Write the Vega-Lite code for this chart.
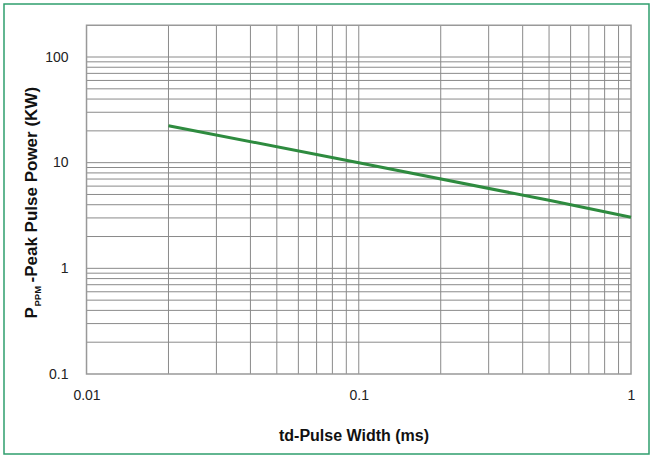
{
  "$schema": "https://vega.github.io/schema/vega-lite/v6.json",
  "width": 645,
  "height": 450,
  "autosize": {"type": "none"},
  "padding": {"left": 4, "top": 4, "right": 1, "bottom": 1},
  "background": "white",
  "config": {
    "view": {"stroke": "#2f9e6e", "strokeWidth": 1.5},
    "font": "Liberation Sans"
  },
  "datasets": {
    "curve": [
      {"t": 0.02, "p": 22.4},
      {"t": 0.1, "p": 10.0},
      {"t": 0.5, "p": 4.4},
      {"t": 1, "p": 3.05}
    ],
    "xgrid": [
      {"t": 0.02}, {"t": 0.03}, {"t": 0.04}, {"t": 0.05}, {"t": 0.06}, {"t": 0.07}, {"t": 0.08}, {"t": 0.09},
      {"t": 0.1}, {"t": 0.2}, {"t": 0.3}, {"t": 0.4}, {"t": 0.5}, {"t": 0.6}, {"t": 0.7}, {"t": 0.8}, {"t": 0.9}
    ],
    "ygrid": [
      {"p": 0.2}, {"p": 0.3}, {"p": 0.4}, {"p": 0.5}, {"p": 0.6}, {"p": 0.7}, {"p": 0.8}, {"p": 0.9},
      {"p": 1}, {"p": 2}, {"p": 3}, {"p": 4}, {"p": 5}, {"p": 6}, {"p": 7}, {"p": 8}, {"p": 9},
      {"p": 10}, {"p": 20}, {"p": 30}, {"p": 40}, {"p": 50}, {"p": 60}, {"p": 70}, {"p": 80}, {"p": 90},
      {"p": 100}
    ]
  },
  "resolve": {"axis": {"x": "independent", "y": "independent"}},
  "layer": [
    {
      "data": {"name": "xgrid"},
      "mark": {"type": "rule", "color": "#8a8a8a", "strokeWidth": 1},
      "encoding": {
        "x": {"field": "t", "type": "quantitative", "axis": null,
              "scale": {"type": "log", "domain": [0.004976, 1.1643], "nice": false}},
        "y": {"datum": 0.1, "type": "quantitative", "axis": null,
              "scale": {"type": "log", "domain": [0.017497, 317.4], "nice": false}},
        "y2": {"datum": 200}
      }
    },
    {
      "data": {"name": "ygrid"},
      "mark": {"type": "rule", "color": "#8a8a8a", "strokeWidth": 1},
      "encoding": {
        "y": {"field": "p", "type": "quantitative", "axis": null,
              "scale": {"type": "log", "domain": [0.017497, 317.4], "nice": false}},
        "x": {"datum": 0.01, "type": "quantitative", "axis": null,
              "scale": {"type": "log", "domain": [0.004976, 1.1643], "nice": false}},
        "x2": {"datum": 1}
      }
    },
    {
      "data": {"values": [{}]},
      "mark": {"type": "rect", "fillOpacity": 0, "stroke": "#999999", "strokeWidth": 1.5},
      "encoding": {
        "x": {"datum": 0.01, "type": "quantitative", "axis": null,
              "scale": {"type": "log", "domain": [0.004976, 1.1643], "nice": false}},
        "x2": {"datum": 1},
        "y": {"datum": 0.1, "type": "quantitative", "axis": null,
              "scale": {"type": "log", "domain": [0.017497, 317.4], "nice": false}},
        "y2": {"datum": 200}
      }
    },
    {
      "data": {"name": "curve"},
      "mark": {"type": "line", "color": "#2e8b3f", "strokeWidth": 3},
      "encoding": {
        "x": {"field": "t", "type": "quantitative",
              "scale": {"type": "log", "domain": [0.004976, 1.1643], "nice": false},
              "axis": {"orient": "bottom", "values": [0.01, 0.1, 1], "format": "~g",
                       "grid": false, "ticks": false, "domain": false, "offset": -66, "labelPadding": 0,
                       "labelFont": "Liberation Sans", "labelFontSize": 14, "labelColor": "#222222",
                       "title": "td-Pulse Width (ms)", "titleFont": "Liberation Sans", "titleFontSize": 16,
                       "titleFontWeight": "bold", "titleColor": "#111111",
                       "titleX": 349.5, "titleY": 47, "titleBaseline": "middle", "titleAlign": "center", "titleAngle": 0}},
        "y": {"field": "p", "type": "quantitative",
              "scale": {"type": "log", "domain": [0.017497, 317.4], "nice": false},
              "axis": {"orient": "left", "values": [0.1, 1, 10, 100], "format": "~g",
                       "grid": false, "ticks": false, "domain": false, "offset": -66, "labelPadding": 2,
                       "labelFont": "Liberation Sans", "labelFontSize": 14, "labelColor": "#222222",
                       "title": "-Peak Pulse Power (KW)", "titleFont": "Liberation Sans", "titleFontSize": 17,
                       "titleFontWeight": "bold", "titleColor": "#111111",
                       "titleX": -34, "titleY": 278, "titleAngle": 270, "titleAlign": "left", "titleBaseline": "alphabetic"}}
      }
    },
    {
      "data": {"name": "curve"},
      "mark": {"type": "point", "opacity": 0},
      "encoding": {
        "x": {"field": "t", "type": "quantitative",
              "scale": {"type": "log", "domain": [0.004976, 1.1643], "nice": false},
              "axis": {"orient": "top", "labels": false, "ticks": false, "domain": false, "grid": false,
                       "title": "P", "titleFont": "Liberation Sans", "titleFontSize": 17,
                       "titleFontWeight": "bold", "titleColor": "#111111",
                       "titleX": 32, "titleY": 314, "titleAngle": 270, "titleAlign": "left", "titleBaseline": "alphabetic"}},
        "y": {"field": "p", "type": "quantitative",
              "scale": {"type": "log", "domain": [0.017497, 317.4], "nice": false},
              "axis": {"orient": "right", "labels": false, "ticks": false, "domain": false, "grid": false,
                       "title": "PPM", "titleFont": "Liberation Sans", "titleFontSize": 9.5,
                       "titleFontWeight": "bold", "titleColor": "#111111",
                       "titleX": -609, "titleY": 302, "titleAngle": 270, "titleAlign": "left", "titleBaseline": "alphabetic"}}
      }
    }
  ]
}
